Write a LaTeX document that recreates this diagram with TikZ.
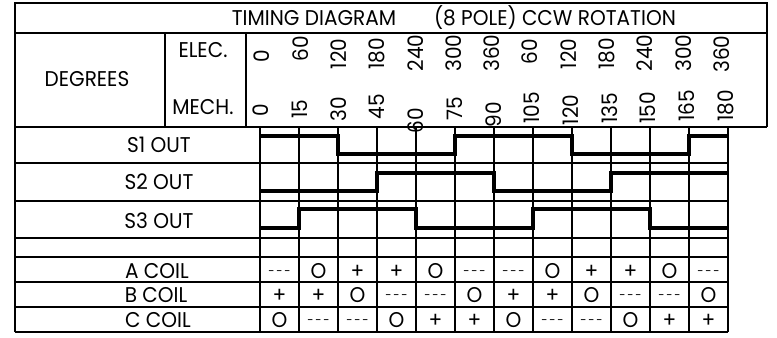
\documentclass[tikz,border=0pt]{standalone}
\usepackage{fontspec}
\setmainfont{Poppins}[FakeStretch=0.94]
\usetikzlibrary{positioning}
\newcommand{\cneg}{\raisebox{2.2pt}{\fontsize{9}{10}\selectfont-\kern1.4pt-\kern1.4pt-}}
\newcommand{\cpos}{+}
\newcommand{\czero}{O}
\tikzset{
  gridline/.style={line width=1.1pt},
  pulse/.style={line width=2.6pt},
  lbl/.style={inner sep=0pt, font=\fontsize{16}{18}\selectfont},
  deg/.style={lbl, rotate=90},
  coil/.style={lbl, anchor=base}
}
\begin{document}
\begin{tikzpicture}[x=0.75pt,y=0.75pt,yscale=-1,xscale=1]
\useasboundingbox (0,0) rectangle (777,337);

%Frame of the heading
\draw [gridline] (15,332) -- (15,3) -- (767,3) -- (767,127) ;
\draw [gridline] (15,33) -- (767,33) ;
\draw [gridline] (15,127) -- (767,127) ;
\draw [gridline] (165,33) -- (165,127) ;
\draw [gridline] (246,33) -- (246,127) ;
%Row lines
\foreach \y in {163,201,238,257,282,307,332}
  \draw [gridline] (15,\y) -- (728,\y) ;
%Column lines
\foreach \k in {0,...,12}
  \draw [gridline] (260+39*\k,127) -- (260+39*\k,332) ;

%S1 OUT
\draw [pulse] (260,136) -- (338,136) -- (338,154) -- (455,154) -- (455,136) -- (572,136) -- (572,154) -- (689,154) -- (689,136) -- (728,136) ;
%S2 OUT
\draw [pulse] (260,191) -- (377,191) -- (377,173) -- (494,173) -- (494,191) -- (611,191) -- (611,173) -- (728,173) ;
%S3 OUT
\draw [pulse] (260,228) -- (299,228) -- (299,209) -- (416,209) -- (416,228) -- (533,228) -- (533,209) -- (650,209) -- (650,228) -- (728,228) ;

% Text Node
\node [lbl] (title) at (314,18) {TIMING DIAGRAM};
\node [lbl] (rotation) at (555,18) {(8 POLE) CCW ROTATION};
\node [lbl] (degrees) at (87,79) {DEGREES};
\node [lbl] (elec) at (203,50) {ELEC.};
\node [lbl] (mech) at (203,107) {MECH.};
\node [lbl] (s1) at (159,145) {S1 OUT};
\node [lbl] (s2) at (159,182) {S2 OUT};
\node [lbl] (s3) at (159,221) {S3 OUT};
\node [lbl] (acoil) at (157,271) {A COIL};
\node [lbl] (bcoil) at (156,295) {B COIL};
\node [lbl] (ccoil) at (158,320) {C COIL};

% Degree Nodes
\foreach \e/\m/\ey/\my [count=\k from 0] in {0/0/56/110, 60/15/49/109, 120/30/54/109, 180/45/54/107, 240/60/53/121, 300/75/53/109, 360/90/53/115, 60/105/52/108, 120/120/54/110, 180/135/54/108, 240/150/53/108, 300/165/53/106, 360/180/54/106}
  {\node [deg] (e\k) at (262+38.3*\k,\ey) {\e};
   \node [deg] (m\k) at (261+38.7*\k,\my) {\m};}

% Coil Nodes
\foreach \a/\b/\c [count=\k] in {\cneg/\cpos/\czero, \czero/\cpos/\cneg, \cpos/\czero/\cneg, \cpos/\cneg/\czero, \czero/\cneg/\cpos, \cneg/\czero/\cpos, \cneg/\cpos/\czero, \czero/\cpos/\cneg, \cpos/\czero/\cneg, \cpos/\cneg/\czero, \czero/\cneg/\cpos, \cneg/\czero/\cpos}
  {\node [coil] (a\k) at (240.5+39*\k,278) {\a};
   \node [coil] (b\k) at (240.5+39*\k,302) {\b};
   \node [coil] (c\k) at (240.5+39*\k,327) {\c};}

\end{tikzpicture}
\end{document}
